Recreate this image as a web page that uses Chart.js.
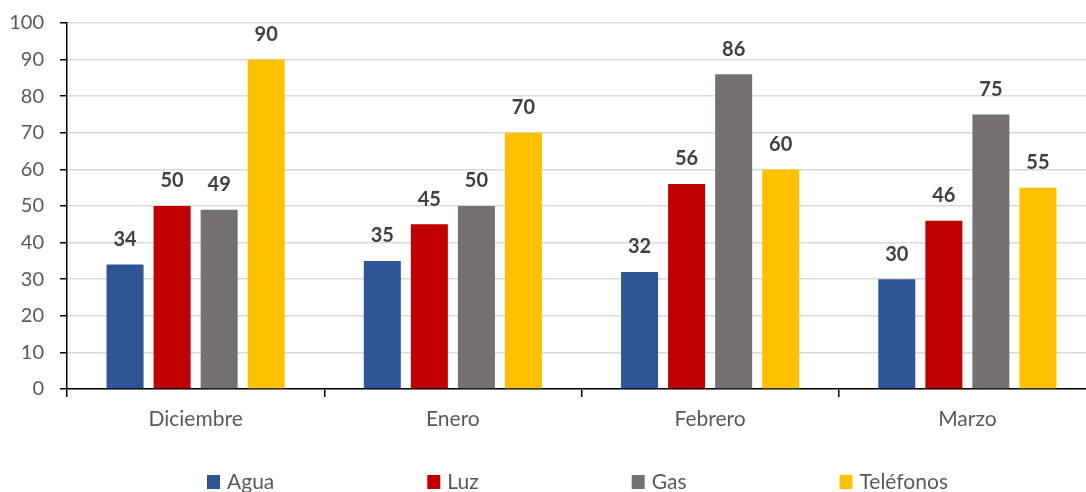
<!DOCTYPE html>
<html>
<head>
<meta charset="utf-8">
<script src="https://cdn.jsdelivr.net/npm/chart.js@4/dist/chart.umd.min.js"></script>
<style>
  html, body { margin: 0; padding: 0; background: #fff; overflow: hidden; }
  #wrap { position: relative; width: 1100px; height: 492px; }
</style>
</head>
<body>
<div id="wrap"><canvas id="chart"></canvas></div>
<script>
// Data
const months = ['Diciembre', 'Enero', 'Febrero', 'Marzo'];
const seriesNames = ['Agua', 'Luz', 'Gas', 'Teléfonos'];
const agua = [34, 35, 32, 30];
const luz = [50, 45, 56, 46];
const gas = [49, 50, 86, 75];
const telefonos = [90, 70, 60, 55];
const yTicks = [0, 10, 20, 30, 40, 50, 60, 70, 80, 90, 100];

const COLORS = ['#2F5597', '#C00000', '#767171', '#FFC000'];
const FONT = 'Lato, "Open Sans", sans-serif';

// value labels above each bar
const barLabels = {
    id: 'barLabels',
    afterDatasetsDraw(chart) {
        const ctx = chart.ctx;
        ctx.save();
        ctx.font = 'bold 20px ' + FONT;
        ctx.fillStyle = '#404040';
        ctx.textAlign = 'center';
        ctx.textBaseline = 'middle';
        chart.data.datasets.forEach((ds, i) => {
            chart.getDatasetMeta(i).data.forEach((bar, j) => {
                ctx.fillText(ds.data[j], bar.x, bar.y - 25);
            });
        });
        ctx.restore();
    }
};

// legend drawn at the bottom, fixed gap between items
const bottomLegend = {
    id: 'bottomLegend',
    afterDraw(chart) {
        const ctx = chart.ctx;
        const box = 13, gap = 7, spacing = 153;
        ctx.save();
        ctx.font = '21px ' + FONT;
        const items = chart.data.datasets.map((ds, i) => ({
            text: ds.label,
            color: COLORS[i],
            w: box + gap + ctx.measureText(ds.label).width
        }));
        const total = items.reduce((s, it) => s + it.w, 0) + spacing * (items.length - 1);
        const area = chart.chartArea;
        let x = (area.left + area.right) / 2 - 4 - total / 2;
        const y = 482;
        ctx.textBaseline = 'middle';
        ctx.textAlign = 'left';
        items.forEach(it => {
            ctx.fillStyle = it.color;
            ctx.fillRect(x, y - 7, box, 14);
            ctx.fillStyle = '#595959';
            ctx.fillText(it.text, x + box + gap, y);
            x += it.w + spacing;
        });
        ctx.restore();
    }
};

const allSeries = [agua, luz, gas, telefonos];

new Chart(document.getElementById('chart').getContext('2d'), {
    type: 'bar',
    data: {
        labels: months,
        datasets: allSeries.map((vals, i) => ({
            label: seriesNames[i],
            data: vals,
            backgroundColor: COLORS[i],
            borderWidth: 0,
            categoryPercentage: 0.7315,
            barPercentage: 0.787
        }))
    },
    options: {
        responsive: true,
        maintainAspectRatio: false,
        animation: false,
        layout: { padding: { top: 23, right: 4, bottom: 53, left: 0 } },
        plugins: {
            legend: { display: false },
            tooltip: { enabled: false }
        },
        scales: {
            x: {
                grid: {
                    offset: true,
                    drawOnChartArea: false,
                    color: '#000',
                    lineWidth: 1.5,
                    tickLength: 8
                },
                border: { color: '#000', width: 1.5 },
                ticks: {
                    color: '#595959',
                    font: { family: FONT, size: 21 },
                    padding: 10,
                    maxRotation: 0
                },
                afterFit(scale) { scale.height = 50; }
            },
            y: {
                min: 0,
                max: 100,
                afterBuildTicks(scale) {
                    scale.ticks = yTicks.map(v => ({ value: v }));
                },
                grid: {
                    color: '#d9d9d9',
                    lineWidth: 1.5,
                    tickColor: '#000',
                    tickLength: 7
                },
                border: { color: '#000', width: 1.5 },
                ticks: {
                    color: '#595959',
                    font: { family: FONT, size: 20 },
                    padding: 16
                },
                afterFit(scale) {
                    scale.width = 67;
                    scale.paddingTop = 0;
                    scale.paddingBottom = 0;
                }
            }
        }
    },
    plugins: [barLabels, bottomLegend]
});
</script>
</body>
</html>
